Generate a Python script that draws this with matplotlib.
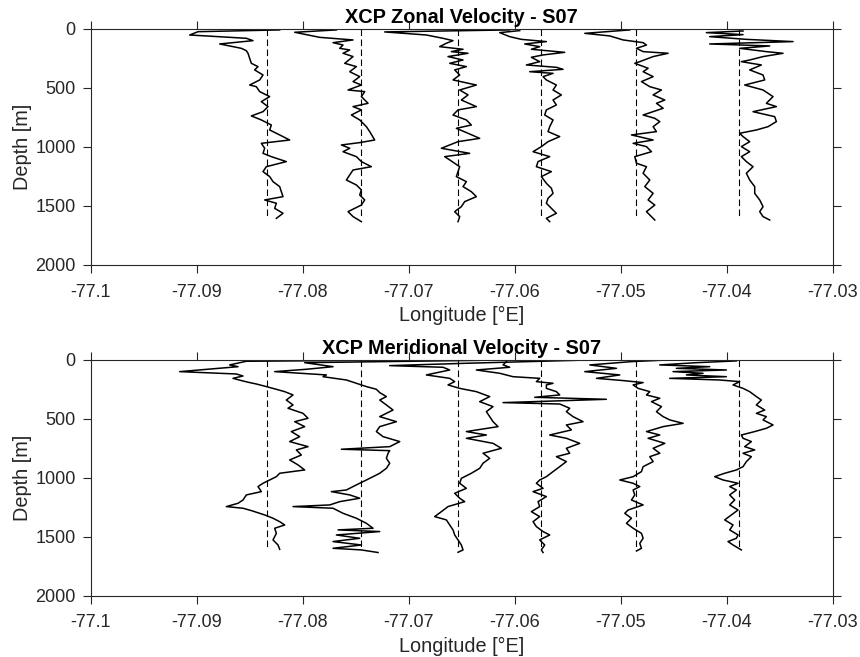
import matplotlib.pyplot as plt

plt.rcParams['font.family'] = ['Liberation Sans', 'DejaVu Sans']

# station longitudes (dashed reference lines)
stations = [-77.08337, -77.07453, -77.06535, -77.05755, -77.04858, -77.03884]
dash_depth = 1600
# degrees of longitude per mm/s of velocity
scale = 3.145e-5

# zonal velocity profiles: depth [m] and u [mm/s], one list per station
zonal_depth = [
    [8, 23, 51, 79, 99, 127, 144, 164, 184, 206, 249, 291, 319, 347, 390, 432, 475, 489, 531, 573,
     616, 658, 701, 737, 771, 814, 856, 898, 941, 969, 1011, 1054, 1082, 1124, 1167, 1209, 1251, 1294,
     1336, 1379, 1421, 1449, 1477, 1520, 1562, 1605],
    [8, 28, 71, 93, 116, 136, 164, 178, 206, 234, 291, 319, 362, 404, 446, 475, 517, 531, 573, 630,
     658, 686, 729, 771, 828, 870, 941, 963, 983, 1011, 1040, 1082, 1124, 1167, 1195, 1237, 1280, 1322,
     1364, 1407, 1449, 1492, 1520, 1548, 1590, 1633],
    [8, 25, 51, 79, 99, 121, 150, 172, 192, 206, 234, 263, 291, 319, 347, 390, 432, 475, 517, 559,
     602, 658, 686, 729, 771, 814, 842, 884, 927, 955, 1011, 1054, 1082, 1110, 1167, 1209, 1251, 1294,
     1336, 1379, 1421, 1463, 1506, 1548, 1590, 1633],
    [14, 31, 65, 88, 107, 127, 150, 172, 198, 220, 240, 277, 305, 325, 342, 362, 376, 404, 432, 475,
     517, 559, 602, 644, 686, 729, 771, 828, 870, 912, 955, 997, 1040, 1082, 1124, 1167, 1209, 1251,
     1308, 1350, 1393, 1435, 1477, 1520, 1562, 1605, 1633],
    [8, 37, 59, 93, 116, 136, 164, 192, 206, 234, 277, 291, 333, 362, 404, 446, 489, 517, 559, 602,
     630, 672, 729, 757, 785, 828, 870, 898, 941, 969, 997, 1040, 1082, 1138, 1167, 1223, 1280, 1336,
     1393, 1449, 1492, 1548, 1619],
    [17, 31, 48, 65, 88, 107, 127, 144, 164, 192, 206, 234, 263, 277, 305, 347, 390, 432, 475, 517,
     573, 630, 658, 701, 743, 785, 828, 856, 884, 912, 955, 997, 1040, 1082, 1124, 1167, 1223, 1280,
     1336, 1393, 1449, 1506, 1548, 1590, 1619],
]
zonal_u = [
    [38, -207, -232, -62, -42, -142, -112, -77, -62, -57, -52, -47, -27, -37, -12, -22, -52, -32, -22, 8,
     -17, 3, -12, -47, -17, 13, 8, 38, 68, -17, -7, -12, 13, 58, -2, -12, 8, 18,
     38, 43, 48, -7, 28, 23, 48, 28],
    [-73, -198, -123, -23, -83, -53, -63, -33, -53, -23, -48, -13, -33, -3, -23, 2, -38, 12, 2, 22,
     -23, 2, -28, -3, 17, 27, 42, -3, -58, -33, -53, -13, 2, 32, -23, -33, -43, -13,
     2, -3, 12, 2, -18, -38, -23, 2],
    [155, -220, -95, -45, -15, -35, -55, 15, -20, 30, -30, 15, -25, 25, -10, 5, -15, 55, 5, 30,
     10, 55, 0, -15, 25, 40, -5, 30, 65, 0, -50, 35, -40, -25, 5, 0, -5, 25,
     15, 40, 55, 20, 10, -10, 5, 0],
    [-63, -123, -93, -58, 17, -48, -3, -28, 72, 7, -28, -3, -43, 47, 67, -33, 37, 7, 17, 47,
     37, 62, 37, 47, 17, 12, 37, 27, 22, 57, 22, 2, -23, 27, -8, -13, 32, 2,
     17, 32, 37, 22, 17, 32, 47, 17, 27],
    [-18, -153, -78, -38, 22, 32, 2, 22, 97, 52, 12, -3, 37, 22, 52, 17, 42, 77, 52, 87,
     62, 82, 22, 57, 72, 52, 62, -13, 52, -8, 32, 47, -3, 2, 32, 22, 42, 27,
     52, 37, 57, 32, 57],
    [12, -98, 12, -88, 22, 162, -88, 92, 2, 82, 132, 72, 32, 7, 67, 32, 72, 77, 17, 72,
     102, 82, 112, 42, 107, 112, 87, 52, 2, 12, 32, 7, 32, 7, 22, 42, 22, 32,
     47, 47, 62, 72, 62, 72, 92],
]

# meridional velocity profiles: depth [m] and v [mm/s]
merid_depth = [
    [3, 11, 42, 57, 99, 119, 136, 156, 175, 192, 204, 226, 249, 269, 297, 340, 382, 410, 453, 495,
     524, 566, 608, 651, 693, 736, 764, 807, 849, 891, 934, 962, 991, 1019, 1047, 1075, 1118, 1146,
     1189, 1217, 1245, 1259, 1279, 1316, 1344, 1373, 1401, 1429, 1472, 1528, 1571, 1608],
    [3, 23, 57, 79, 99, 127, 142, 170, 198, 226, 249, 277, 311, 340, 382, 425, 481, 524, 566, 608,
     651, 693, 736, 758, 770, 792, 835, 877, 920, 962, 991, 1019, 1047, 1075, 1104, 1118, 1146, 1174,
     1203, 1231, 1245, 1259, 1302, 1344, 1387, 1429, 1443, 1457, 1486, 1514, 1542, 1571, 1599, 1613, 1635],
    [3, 28, 48, 62, 85, 127, 156, 184, 212, 241, 269, 311, 354, 396, 439, 481, 524, 566, 608, 637,
     665, 708, 750, 792, 835, 877, 920, 962, 1005, 1047, 1090, 1132, 1174, 1203, 1245, 1288, 1330, 1358,
     1401, 1443, 1486, 1528, 1571, 1613, 1633],
    [14, 42, 62, 85, 113, 142, 156, 184, 198, 212, 241, 269, 297, 317, 334, 345, 362, 374, 410, 439,
     481, 524, 552, 594, 637, 665, 708, 750, 792, 821, 863, 906, 948, 991, 1019, 1047, 1090, 1118,
     1160, 1203, 1245, 1288, 1330, 1373, 1415, 1457, 1486, 1528, 1571, 1613, 1635],
    [3, 14, 42, 71, 99, 127, 156, 175, 192, 212, 241, 269, 297, 325, 354, 396, 439, 481, 509, 538,
     566, 608, 637, 665, 708, 750, 792, 821, 863, 906, 948, 991, 1019, 1047, 1075, 1104, 1146, 1189,
     1231, 1274, 1302, 1344, 1387, 1429, 1472, 1514, 1557, 1599, 1622],
    [8, 23, 42, 57, 71, 85, 99, 113, 127, 142, 156, 170, 184, 212, 241, 269, 311, 340, 382, 425,
     453, 481, 509, 552, 580, 608, 637, 665, 693, 736, 764, 792, 821, 863, 906, 934, 962, 991,
     1019, 1047, 1075, 1104, 1146, 1189, 1231, 1274, 1316, 1358, 1401, 1443, 1486, 1514, 1542, 1571, 1613],
]
merid_v = [
    [298, -62, -112, -87, -262, -92, -72, -102, -77, -52, -32, -2, 28, 53, 78, 58, 78, 63, 108, 123,
     83, 113, 73, 98, 68, 123, 88, 103, 68, 93, 113, 38, 28, 8, -12, -27, -17, -62,
     -72, -87, -122, -72, -47, -7, 18, 38, 53, 23, 28, 18, 33, 38],
    [357, -168, -83, -163, -258, -103, -113, -43, -13, 17, 47, 57, 77, 57, 77, 97, 57, 107, 57, 47,
     67, 117, 87, -58, 87, 82, 77, 87, 77, 57, 37, 17, -3, -23, -43, -88, -33, -3,
     -63, -93, -203, -83, -53, -13, 17, 37, -68, 57, -73, -3, -83, 2, -83, 2, 52],
    [355, 25, -205, -45, -25, -95, -25, -10, -30, 5, 55, 95, 65, 105, 85, 95, 105, 120, 25, 85,
     25, 105, 130, 75, 95, 75, 65, 40, 10, 5, 25, -10, 5, 20, -30, -50, -70, -35,
     -25, -15, -10, 0, 10, 15, 0],
    [-103, -113, -93, -193, -123, -83, -3, -13, 37, 17, 17, 47, 57, -18, 197, 77, -113, 57, 87, 77,
     97, 127, 77, 92, 27, 77, 117, 77, 87, 47, 77, 57, 37, 17, -3, -13, 7, -23,
     17, -8, -3, -28, -3, -23, -13, 7, 27, -3, 12, 2, 7],
    [72, -13, -138, -58, -153, -48, -118, -38, 22, -8, 7, 42, 32, 72, 47, 77, 62, 82, 102, 142,
     82, 32, 72, 37, 87, 52, 72, 42, 52, 22, 17, -8, -48, -8, 12, -8, -3, -13,
     22, -23, -33, -13, -28, -8, 17, 22, 12, 17, 2],
    [-8, -128, -238, -88, -188, -38, -198, -108, -158, -38, -208, -58, 2, -18, 12, 32, 52, 67, 52, 77,
     52, 82, 72, 102, 82, 47, 7, 12, 37, 17, 47, 12, 37, 22, 12, -8, -43, -73,
     -48, -3, -28, -8, -28, -13, -28, -3, -23, -43, -18, -28, -3, -8, -33, -18, 7],
]

x_ticks = [-77.1, -77.09, -77.08, -77.07, -77.06, -77.05, -77.04, -77.03]
x_labels = ['-77.1', '-77.09', '-77.08', '-77.07', '-77.06', '-77.05', '-77.04', '-77.03']
y_ticks = [0, 500, 1000, 1500, 2000]

axcol = '#262626'
fs = 13
fs_lab = 14.3

fig = plt.figure(figsize=(8.6, 6.57), dpi=100)
ax1 = fig.add_axes([0.1055, 0.5967, 0.8628, 0.3592])
ax2 = fig.add_axes([0.1055, 0.0936, 0.8628, 0.3585])

panels = [
    (ax1, zonal_depth, zonal_u, 'XCP Zonal Velocity - S07'),
    (ax2, merid_depth, merid_v, 'XCP Meridional Velocity - S07'),
]

for ax, depths, vels, title in panels:
    for lon, z, v in zip(stations, depths, vels):
        ax.plot([lon + scale * vv for vv in v], z, color='black', lw=1.1)
        ax.plot([lon, lon], [0, dash_depth], color='black', lw=0.8,
                linestyle=(0, (5.9, 3.1)))
    ax.set_xlim(-77.1, -77.03)
    ax.set_ylim(2000, 0)
    ax.set_xticks(x_ticks)
    ax.set_xticklabels(x_labels)
    ax.set_yticks(y_ticks)
    ax.tick_params(direction='out', length=5.8, width=0.8, colors=axcol,
                   labelsize=fs, top=True, right=True)
    ax.tick_params(axis='x', pad=7.6)
    ax.tick_params(axis='y', pad=5)
    for s in ax.spines.values():
        s.set_color(axcol)
        s.set_linewidth(0.8)
    ax.set_title(title, fontsize=fs_lab, fontweight='bold', color='black', pad=4.4)
    ax.set_xlabel('Longitude [°E]', fontsize=fs_lab, color=axcol, labelpad=4.2)
    ax.set_ylabel('Depth [m]', fontsize=fs_lab, color=axcol, labelpad=2.5)

fig.savefig('out.png', dpi=100)
